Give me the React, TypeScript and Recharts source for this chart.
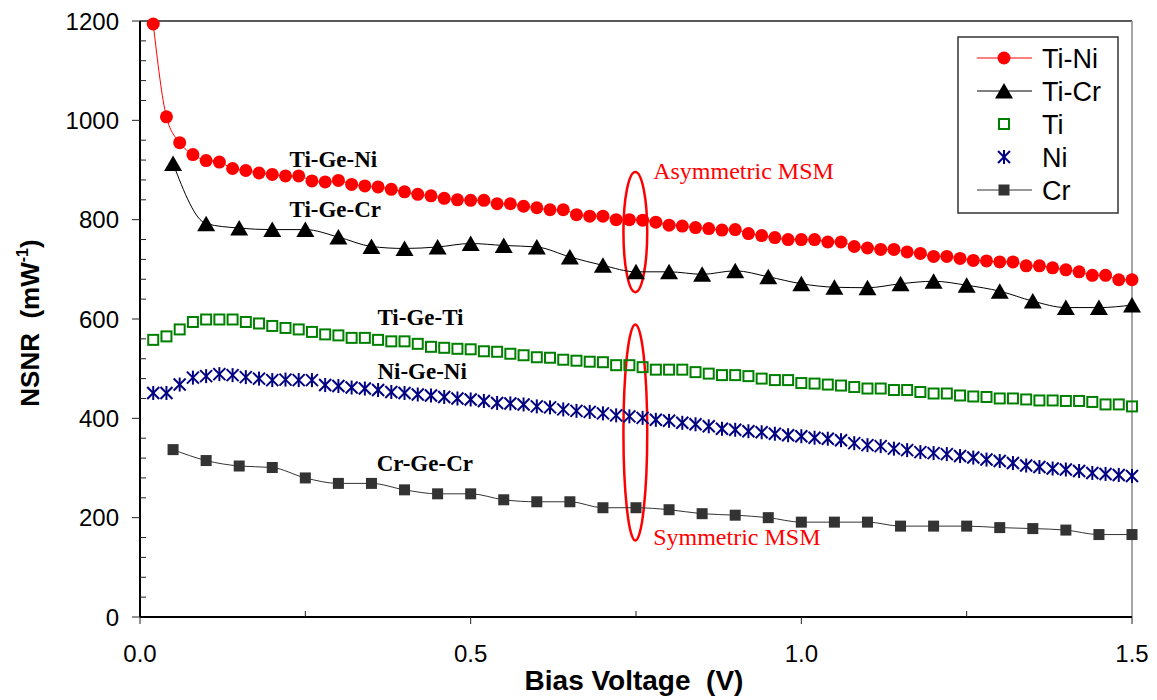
import React from "react";
import {
  LineChart,
  Line,
  XAxis,
  YAxis,
  Legend,
  ReferenceLine,
  ReferenceArea,
  ReferenceDot,
} from "recharts";

// bias voltage grids (V)
const denseV = [
  0.02, 0.04, 0.06, 0.08, 0.1, 0.12, 0.14, 0.16, 0.18, 0.2, 0.22, 0.24, 0.26, 0.28, 0.3,
  0.32, 0.34, 0.36, 0.38, 0.4, 0.42, 0.44, 0.46, 0.48, 0.5, 0.52, 0.54, 0.56, 0.58, 0.6,
  0.62, 0.64, 0.66, 0.68, 0.7, 0.72, 0.74, 0.76, 0.78, 0.8, 0.82, 0.84, 0.86, 0.88, 0.9,
  0.92, 0.94, 0.96, 0.98, 1.0, 1.02, 1.04, 1.06, 1.08, 1.1, 1.12, 1.14, 1.16, 1.18, 1.2,
  1.22, 1.24, 1.26, 1.28, 1.3, 1.32, 1.34, 1.36, 1.38, 1.4, 1.42, 1.44, 1.46, 1.48, 1.5,
];
const stepV = [
  0.05, 0.1, 0.15, 0.2, 0.25, 0.3, 0.35, 0.4, 0.45, 0.5, 0.55, 0.6, 0.65, 0.7, 0.75,
  0.8, 0.85, 0.9, 0.95, 1.0, 1.05, 1.1, 1.15, 1.2, 1.25, 1.3, 1.35, 1.4, 1.45, 1.5,
];

// NSNR values (mW^-1)
const tiNi = [
  1194, 1007, 955, 931, 919, 916, 903, 899, 894, 891, 888, 888, 878, 876, 879,
  871, 868, 866, 861, 856, 851, 848, 843, 840, 839, 839, 832, 832, 827, 824,
  820, 820, 810, 807, 807, 800, 800, 799, 795, 789, 787, 784, 782, 779, 780,
  772, 768, 764, 760, 760, 760, 755, 755, 746, 743, 740, 740, 735, 732, 726,
  726, 722, 718, 717, 715, 715, 707, 707, 703, 699, 695, 688, 688, 679, 679,
];
const tiCr = [
  913, 792, 783, 780, 780, 765, 746, 742, 745, 752, 748, 745, 725, 708, 695,
  695, 690, 697, 685, 671, 664, 663, 671, 676, 668, 656, 636, 623, 623, 628,
];
const ti = [
  558, 565, 579, 594, 599, 599, 599, 594, 591, 586, 582, 579, 574, 569, 567,
  562, 562, 558, 555, 555, 550, 544, 542, 540, 539, 535, 534, 530, 527, 523,
  522, 518, 516, 514, 513, 507, 507, 503, 498, 498, 498, 493, 490, 487, 487,
  485, 480, 477, 477, 471, 470, 468, 466, 463, 460, 460, 457, 457, 453, 450,
  450, 446, 444, 443, 440, 440, 438, 436, 436, 435, 435, 433, 428, 428, 424,
];
const ni = [
  451, 451, 468, 482, 485, 489, 487, 483, 480, 477, 478, 477, 477, 467, 465,
  462, 460, 457, 453, 451, 448, 446, 443, 440, 438, 435, 431, 430, 428, 424,
  422, 418, 415, 413, 410, 406, 404, 401, 397, 395, 391, 388, 384, 379, 377,
  374, 372, 369, 366, 364, 361, 359, 356, 350, 346, 344, 339, 336, 332, 330,
  328, 324, 321, 317, 314, 310, 305, 302, 299, 297, 294, 290, 288, 286, 284,
];
const cr = [
  337, 315, 304, 301, 280, 269, 269, 256, 248, 248, 236, 232, 232, 220, 220,
  216, 208, 205, 200, 191, 191, 191, 183, 183, 183, 180, 178, 175, 166, 166,
];

const xTicks = [0, 0.25, 0.5, 0.75, 1, 1.25, 1.5];
const xMajor = [0, 0.5, 1, 1.5];
const yTicks = [
  0, 40, 80, 120, 160, 200, 240, 280, 320, 360, 400, 440, 480, 520, 560, 600,
  640, 680, 720, 760, 800, 840, 880, 920, 960, 1000, 1040, 1080, 1120, 1160, 1200,
];
const yMajor = [0, 200, 400, 600, 800, 1000, 1200];

const seriesNames = ["Ti-Ni", "Ti-Cr", "Ti", "Ni", "Cr"];

const labels = [
  { text: "Ti-Ge-Ni", v: 0.226, y: 907 },
  { text: "Ti-Ge-Cr", v: 0.226, y: 806 },
  { text: "Ti-Ge-Ti", v: 0.359, y: 587 },
  { text: "Ni-Ge-Ni", v: 0.359, y: 480 },
  { text: "Cr-Ge-Cr", v: 0.358, y: 294 },
];
const msmNotes = [
  { text: "Asymmetric MSM", v: 0.776, y: 881 },
  { text: "Symmetric MSM", v: 0.776, y: 144 },
];
const ellipses = [
  { v1: 0.731, v2: 0.767, y1: 654, y2: 896 },
  { v1: 0.731, v2: 0.767, y1: 154, y2: 589 },
];

const SANS = "'Liberation Sans', Arial, sans-serif";
const SERIF = "'Liberation Serif', 'Times New Roman', serif";

const pairs = (xs: number[], ys: number[]) => xs.map((v, i) => ({ v, y: ys[i] }));

function marker(name: string, cx: number, cy: number, key?: any) {
  switch (name) {
    case "Ti-Ni":
      return <circle key={key} cx={cx} cy={cy} r={6.5} fill="#ff0000" />;
    case "Ti-Cr":
      return (
        <polygon
          key={key}
          points={`${cx},${cy - 8} ${cx + 9},${cy + 7.5} ${cx - 9},${cy + 7.5}`}
          fill="#000"
        />
      );
    case "Ti":
      return (
        <rect key={key} x={cx - 5} y={cy - 5} width={10} height={10} fill="none" stroke="#008000" strokeWidth={2} />
      );
    case "Ni":
      return (
        <g key={key} stroke="#000080" strokeWidth={2}>
          <line x1={cx - 6} y1={cy - 6} x2={cx + 6} y2={cy + 6} />
          <line x1={cx - 6} y1={cy + 6} x2={cx + 6} y2={cy - 6} />
          <line x1={cx} y1={cy - 7} x2={cx} y2={cy + 7} />
        </g>
      );
    default:
      return <rect key={key} x={cx - 5.5} y={cy - 5.5} width={11} height={11} fill="#333" />;
  }
}

const dotFor = (name: string) => (p: any) => marker(name, p.cx, p.cy, `${name}-${p.index}`);

const XTick = ({ x, y, payload }: any) => {
  const major = xMajor.includes(payload.value);
  return (
    <g>
      {major ? (
        <line x1={x} x2={x} y1={y} y2={y + 7} stroke="#222" />
      ) : (
        <line x1={x} x2={x} y1={y} y2={y - 6} stroke="#222" />
      )}
      {major && (
        <text x={x} y={y + 45} textAnchor="middle" fontSize={24} fontFamily={SANS} fill="#000">
          {payload.value.toFixed(1)}
        </text>
      )}
    </g>
  );
};

const YTick = ({ x, y, payload }: any) => {
  const major = yMajor.includes(payload.value);
  return (
    <g>
      {major ? (
        <line x1={x - 8} x2={x} y1={y} y2={y} stroke="#222" />
      ) : (
        <line x1={x} x2={x + 6} y1={y} y2={y} stroke="#222" />
      )}
      {major && (
        <text x={x - 21} y={y + 8.5} textAnchor="end" fontSize={24} fontFamily={SANS} fill="#000">
          {payload.value}
        </text>
      )}
    </g>
  );
};

const XTitle = ({ viewBox }: any) => (
  <text
    x={viewBox.x + viewBox.width / 2 - 2}
    y={690}
    textAnchor="middle"
    fontSize={28}
    fontWeight="bold"
    fontFamily={SANS}
    fill="#000"
    style={{ whiteSpace: "pre" }}
  >
    {"Bias Voltage  (V)"}
  </text>
);

const YTitle = ({ viewBox }: any) => {
  const cx = 39;
  const cy = viewBox.y + viewBox.height / 2 + 4;
  return (
    <text
      x={cx}
      y={cy}
      transform={`rotate(-90, ${cx}, ${cy})`}
      textAnchor="middle"
      fontSize={26}
      fontWeight="bold"
      fontFamily={SANS}
      fill="#000"
      style={{ whiteSpace: "pre" }}
    >
      {"NSNR  (mW"}
      <tspan dy={-11} fontSize={16}>-1</tspan>
      <tspan dy={11}>)</tspan>
    </text>
  );
};

const LegendBox = ({ payload }: any) => {
  const items = seriesNames
    .map((n) => (payload || []).find((p: any) => p.value === n))
    .filter(Boolean);
  return (
    <svg width={162} height={178} style={{ display: "block" }}>
      <rect x={1} y={1} width={160} height={176} fill="#fff" stroke="#333" strokeWidth={1.5} />
      {items.map((it: any, i: number) => {
        const cy = 22 + i * 33;
        const lined = it.color && it.color !== "none";
        return (
          <g key={it.value}>
            {lined && <line x1={20} x2={75} y1={cy} y2={cy} stroke={it.color} strokeWidth={1} />}
            {marker(it.value, 47, cy)}
            <text x={85} y={cy + 9.5} fontSize={27} fontFamily={SANS} fill="#000">
              {it.value}
            </text>
          </g>
        );
      })}
    </svg>
  );
};

export default function App() {
  return (
    <div style={{ position: "absolute", left: 0, top: 0, background: "#fff" }}>
      <LineChart width={1157} height={700} margin={{ top: 21, right: 25, bottom: 0, left: 0 }}>
        <XAxis
          type="number"
          dataKey="v"
          domain={[0, 1.5]}
          ticks={xTicks}
          interval={0}
          tickSize={0}
          tickMargin={0}
          tickLine={false}
          tick={<XTick />}
          height={83}
          axisLine={{ stroke: "#000", strokeWidth: 2 }}
          allowDuplicatedCategory={false}
          label={<XTitle />}
        />
        <YAxis
          type="number"
          domain={[0, 1200]}
          ticks={yTicks}
          interval={0}
          tickSize={0}
          tickMargin={0}
          tickLine={false}
          tick={<YTick />}
          width={140}
          axisLine={{ stroke: "#000", strokeWidth: 2 }}
          label={<YTitle />}
        />
        <ReferenceLine y={1200} stroke="#222" strokeWidth={1.5} />
        <ReferenceLine x={1.5} stroke="#888" strokeWidth={1.5} />
        {ellipses.map((e, i) => (
          <ReferenceArea
            key={`el-${i}`}
            x1={e.v1}
            x2={e.v2}
            y1={e.y1}
            y2={e.y2}
            shape={(p: any) => (
              <ellipse
                cx={p.x + p.width / 2}
                cy={p.y + p.height / 2}
                rx={p.width / 2}
                ry={p.height / 2}
                fill="none"
                stroke="#ff0000"
                strokeWidth={2.5}
              />
            )}
          />
        ))}
        {labels.map((l) => (
          <ReferenceDot
            key={l.text}
            x={l.v}
            y={l.y}
            r={1}
            shape={(p: any) => (
              <text x={p.cx} y={p.cy} fontSize={23} fontWeight="bold" fontFamily={SERIF} fill="#000">
                {l.text}
              </text>
            )}
          />
        ))}
        {msmNotes.map((l) => (
          <ReferenceDot
            key={l.text}
            x={l.v}
            y={l.y}
            r={1}
            shape={(p: any) => (
              <text x={p.cx} y={p.cy} fontSize={24} fontFamily={SERIF} fill="#ff0000">
                {l.text}
              </text>
            )}
          />
        ))}
        <Line
          name="Ti-Ni"
          data={pairs(denseV, tiNi)}
          dataKey="y"
          type="monotone"
          stroke="#ff0000"
          strokeWidth={1}
          dot={dotFor("Ti-Ni")}
          activeDot={false}
          isAnimationActive={false}
        />
        <Line
          name="Ti-Cr"
          data={pairs(stepV, tiCr)}
          dataKey="y"
          type="monotone"
          stroke="#000"
          strokeWidth={1}
          dot={dotFor("Ti-Cr")}
          activeDot={false}
          isAnimationActive={false}
        />
        <Line
          name="Ti"
          data={pairs(denseV, ti)}
          dataKey="y"
          stroke="none"
          dot={dotFor("Ti")}
          activeDot={false}
          isAnimationActive={false}
        />
        <Line
          name="Ni"
          data={pairs(denseV, ni)}
          dataKey="y"
          stroke="none"
          dot={dotFor("Ni")}
          activeDot={false}
          isAnimationActive={false}
        />
        <Line
          name="Cr"
          data={pairs(stepV, cr)}
          dataKey="y"
          type="monotone"
          stroke="#333"
          strokeWidth={1}
          dot={dotFor("Cr")}
          activeDot={false}
          isAnimationActive={false}
        />
        <Legend
          layout="horizontal"
          verticalAlign="middle"
          content={<LegendBox />}
          wrapperStyle={{ left: 957, top: 36, width: 162, height: 178 }}
        />
      </LineChart>
    </div>
  );
}
